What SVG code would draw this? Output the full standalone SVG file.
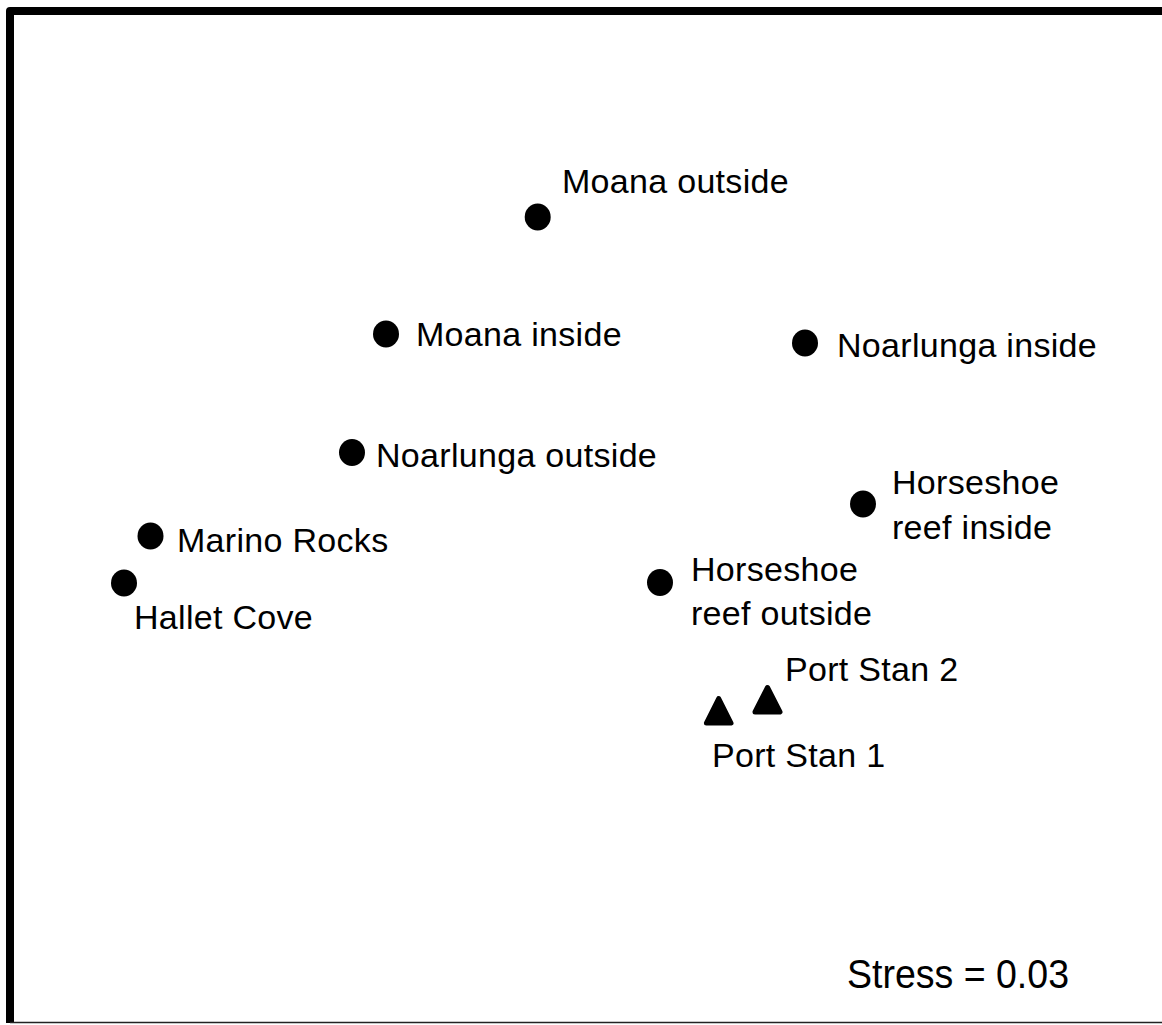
<svg xmlns="http://www.w3.org/2000/svg" width="1162" height="1025" viewBox="0 0 1162 1025">
<style>
text{font-family:"Liberation Sans",Arial,sans-serif;font-size:34px;letter-spacing:0.3px;fill:#000}
.dot{fill:#000}
.tri{fill:#000;stroke:#000;stroke-width:5;stroke-linejoin:round}
</style>
<rect width="1162" height="1025" fill="#fff"/>
<g id="frame">
<path d="M1170,11 H10 V1023" fill="none" stroke="#000" stroke-width="8" stroke-linejoin="round"/>
<path d="M10,1022.5 H1162" fill="none" stroke="#222" stroke-width="1.5"/>
</g>
<g id="moana-outside"><ellipse class="dot" cx="537.7" cy="217" rx="13" ry="13.5"/><text x="562" y="193">Moana outside</text></g>
<g id="moana-inside"><ellipse class="dot" cx="386" cy="334" rx="13" ry="13.5"/><text x="416" y="346">Moana inside</text></g>
<g id="noarlunga-inside"><ellipse class="dot" cx="805" cy="343" rx="13" ry="13.5"/><text x="837" y="357">Noarlunga inside</text></g>
<g id="noarlunga-outside"><ellipse class="dot" cx="352" cy="452.5" rx="13" ry="13.5"/><text x="376" y="467">Noarlunga outside</text></g>
<g id="horseshoe-inside"><ellipse class="dot" cx="863" cy="504" rx="13" ry="13.5"/><text x="892" y="494">Horseshoe</text><text x="892" y="539">reef inside</text></g>
<g id="horseshoe-outside"><ellipse class="dot" cx="660" cy="582.5" rx="13" ry="13.5"/><text x="691" y="581">Horseshoe</text><text x="691" y="625">reef outside</text></g>
<g id="marino-rocks"><ellipse class="dot" cx="150.5" cy="536" rx="13" ry="13.5"/><text x="177" y="552">Marino Rocks</text></g>
<g id="hallet-cove"><ellipse class="dot" cx="124" cy="583" rx="13" ry="13.5"/><text x="134" y="629">Hallet Cove</text></g>
<g id="port-stan-2"><polygon class="tri" points="767.5,687.5 780,712 755,712"/><text x="785" y="681">Port Stan 2</text></g>
<g id="port-stan-1"><polygon class="tri" points="718.7,698.5 731,723 706.4,723"/><text x="712" y="767">Port Stan 1</text></g>
<g id="connectors"/>
<text x="847" y="988" style="font-size:41px;letter-spacing:0" textLength="222" lengthAdjust="spacingAndGlyphs">Stress = 0.03</text>
</svg>
